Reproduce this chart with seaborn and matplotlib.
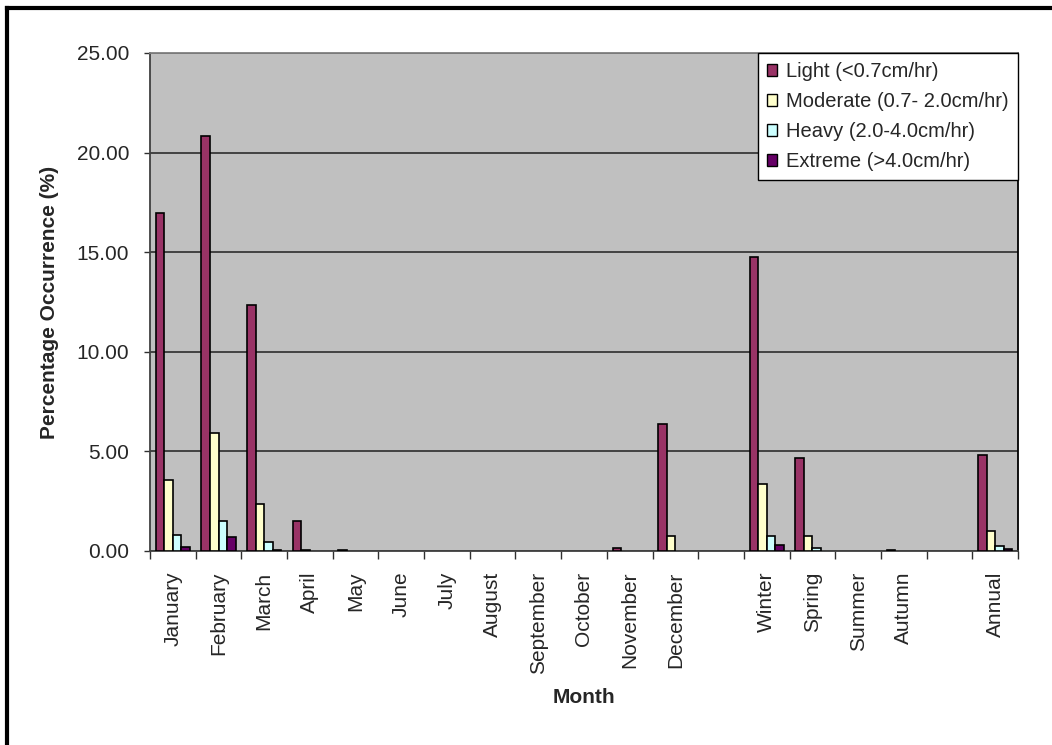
import numpy as np
import pandas as pd
import matplotlib
matplotlib.use("Agg")
import matplotlib.pyplot as plt
from matplotlib.patches import Patch
from matplotlib.lines import Line2D
import seaborn as sns

# Periods along the x axis (two spacer slots separate months, seasons and annual)
periods = ["January", "February", "March", "April", "May", "June", "July",
           "August", "September", "October", "November", "December", " ",
           "Winter", "Spring", "Summer", "Autumn", "  ", "Annual"]
data_periods = ["January", "February", "March", "April", "May", "June", "July",
                "August", "September", "October", "November", "December",
                "Winter", "Spring", "Summer", "Autumn", "Annual"]

intensities = ["Light (<0.7cm/hr)", "Moderate (0.7- 2.0cm/hr)",
               "Heavy (2.0-4.0cm/hr)", "Extreme (>4.0cm/hr)"]

light =    [16.99, 20.83, 12.34, 1.49, 0.05, 0, 0, 0, 0, 0, 0.17, 6.37,
            14.75, 4.65, 0, 0.05, 4.83]
moderate = [3.54, 5.92, 2.35, 0.05, 0, 0, 0, 0, 0, 0, 0, 0.75,
            3.38, 0.75, 0, 0, 1.00]
heavy =    [0.80, 1.49, 0.47, 0, 0, 0, 0, 0, 0, 0, 0, 0,
            0.75, 0.17, 0, 0, 0.27]
extreme =  [0.22, 0.72, 0.05, 0, 0, 0, 0, 0, 0, 0, 0, 0,
            0.32, 0, 0, 0, 0.08]

colors = ["#993366", "#FFFFCC", "#CCFFFF", "#660066"]

rows = []
for name, series in zip(intensities, [light, moderate, heavy, extreme]):
    for p, v in zip(data_periods, series):
        rows.append({"period": p, "pct": v, "intensity": name})
df = pd.DataFrame(rows)

sns.set_style("white")
plt.rcParams["font.family"] = ["Liberation Sans", "DejaVu Sans"]

fig = plt.figure(figsize=(10.52, 7.45), dpi=100)
ax = fig.add_axes([150 / 1052, 1 - 551 / 745, 868 / 1052, 498 / 745])
ax.set_facecolor("#C0C0C0")

sns.barplot(data=df, x="period", y="pct", hue="intensity", order=periods,
            hue_order=intensities, palette=colors, saturation=1,
            width=0.75, edgecolor="black", linewidth=1.2, errorbar=None,
            legend=False, ax=ax, zorder=3)

# Zero-height bars carry no outline
for bar in ax.patches:
    if bar.get_height() == 0:
        bar.set_linewidth(0)

ax.set_ylim(0, 25)
ax.set_xlim(-0.5, len(periods) - 0.5)
ax.set_yticks(np.arange(0, 26, 5))
ax.set_yticklabels([f"{v:.2f}" for v in np.arange(0, 26, 5)], fontsize=15)
ax.yaxis.grid(True, color="#202020", linewidth=1.1, zorder=0)
ax.set_axisbelow(True)

# Tick marks sit on slot boundaries, labels on slot centres
ax.set_xticks(np.arange(-0.5, len(periods), 1))
ax.set_xticklabels([])
ax.set_xticks(np.arange(len(periods)), minor=True)
ax.set_xticklabels([p.strip() for p in periods], minor=True, rotation=90,
                   fontsize=15, va="top", ha="center")
ax.tick_params(axis="x", which="major", direction="out", length=6,
               width=1, color="#303030", bottom=True)
ax.tick_params(axis="x", which="minor", length=0, pad=15)
ax.tick_params(axis="y", direction="out", length=4, width=1,
               color="#303030", left=True, pad=11)

for side in ["left", "bottom"]:
    ax.spines[side].set_color("#404040")
    ax.spines[side].set_linewidth(1.3)
ax.spines["top"].set_color("#808080")
ax.spines["top"].set_linewidth(1.3)
ax.spines["right"].set_color("#000000")
ax.spines["right"].set_linewidth(1.3)
for s in ax.spines.values():
    s.set_visible(True)

ax.set_ylabel("Percentage Occurrence (%)", fontsize=15, fontweight="bold")
ax.yaxis.set_label_coords(-0.105, 0.5)
ax.set_xlabel("Month", fontsize=15, fontweight="bold")
ax.xaxis.set_label_coords(0.5, -0.275)

handles = [Patch(facecolor=c, edgecolor="black", linewidth=1.0) for c in colors]
leg = ax.legend(handles, intensities, loc="upper right",
                bbox_to_anchor=(1.0, 1.0), borderaxespad=0, fontsize=14.5,
                frameon=True, fancybox=False, framealpha=1,
                handlelength=0.5, handleheight=0.5, handletextpad=0.45,
                labelspacing=0.55, borderpad=0.45)
leg.get_frame().set_edgecolor("black")
leg.get_frame().set_linewidth(1.0)
leg.get_frame().set_facecolor("white")
leg.set_zorder(5)

# Chart-area frame along the top and left edges
fig.add_artist(Line2D([7 / 1052, 7 / 1052], [0, 1 - 8 / 745],
                      transform=fig.transFigure, color="black", linewidth=3,
                      solid_capstyle="projecting"))
fig.add_artist(Line2D([7 / 1052, 1], [1 - 8 / 745, 1 - 8 / 745],
                      transform=fig.transFigure, color="black", linewidth=3,
                      solid_capstyle="projecting"))

fig.savefig("out.png", dpi=100, facecolor="white")
